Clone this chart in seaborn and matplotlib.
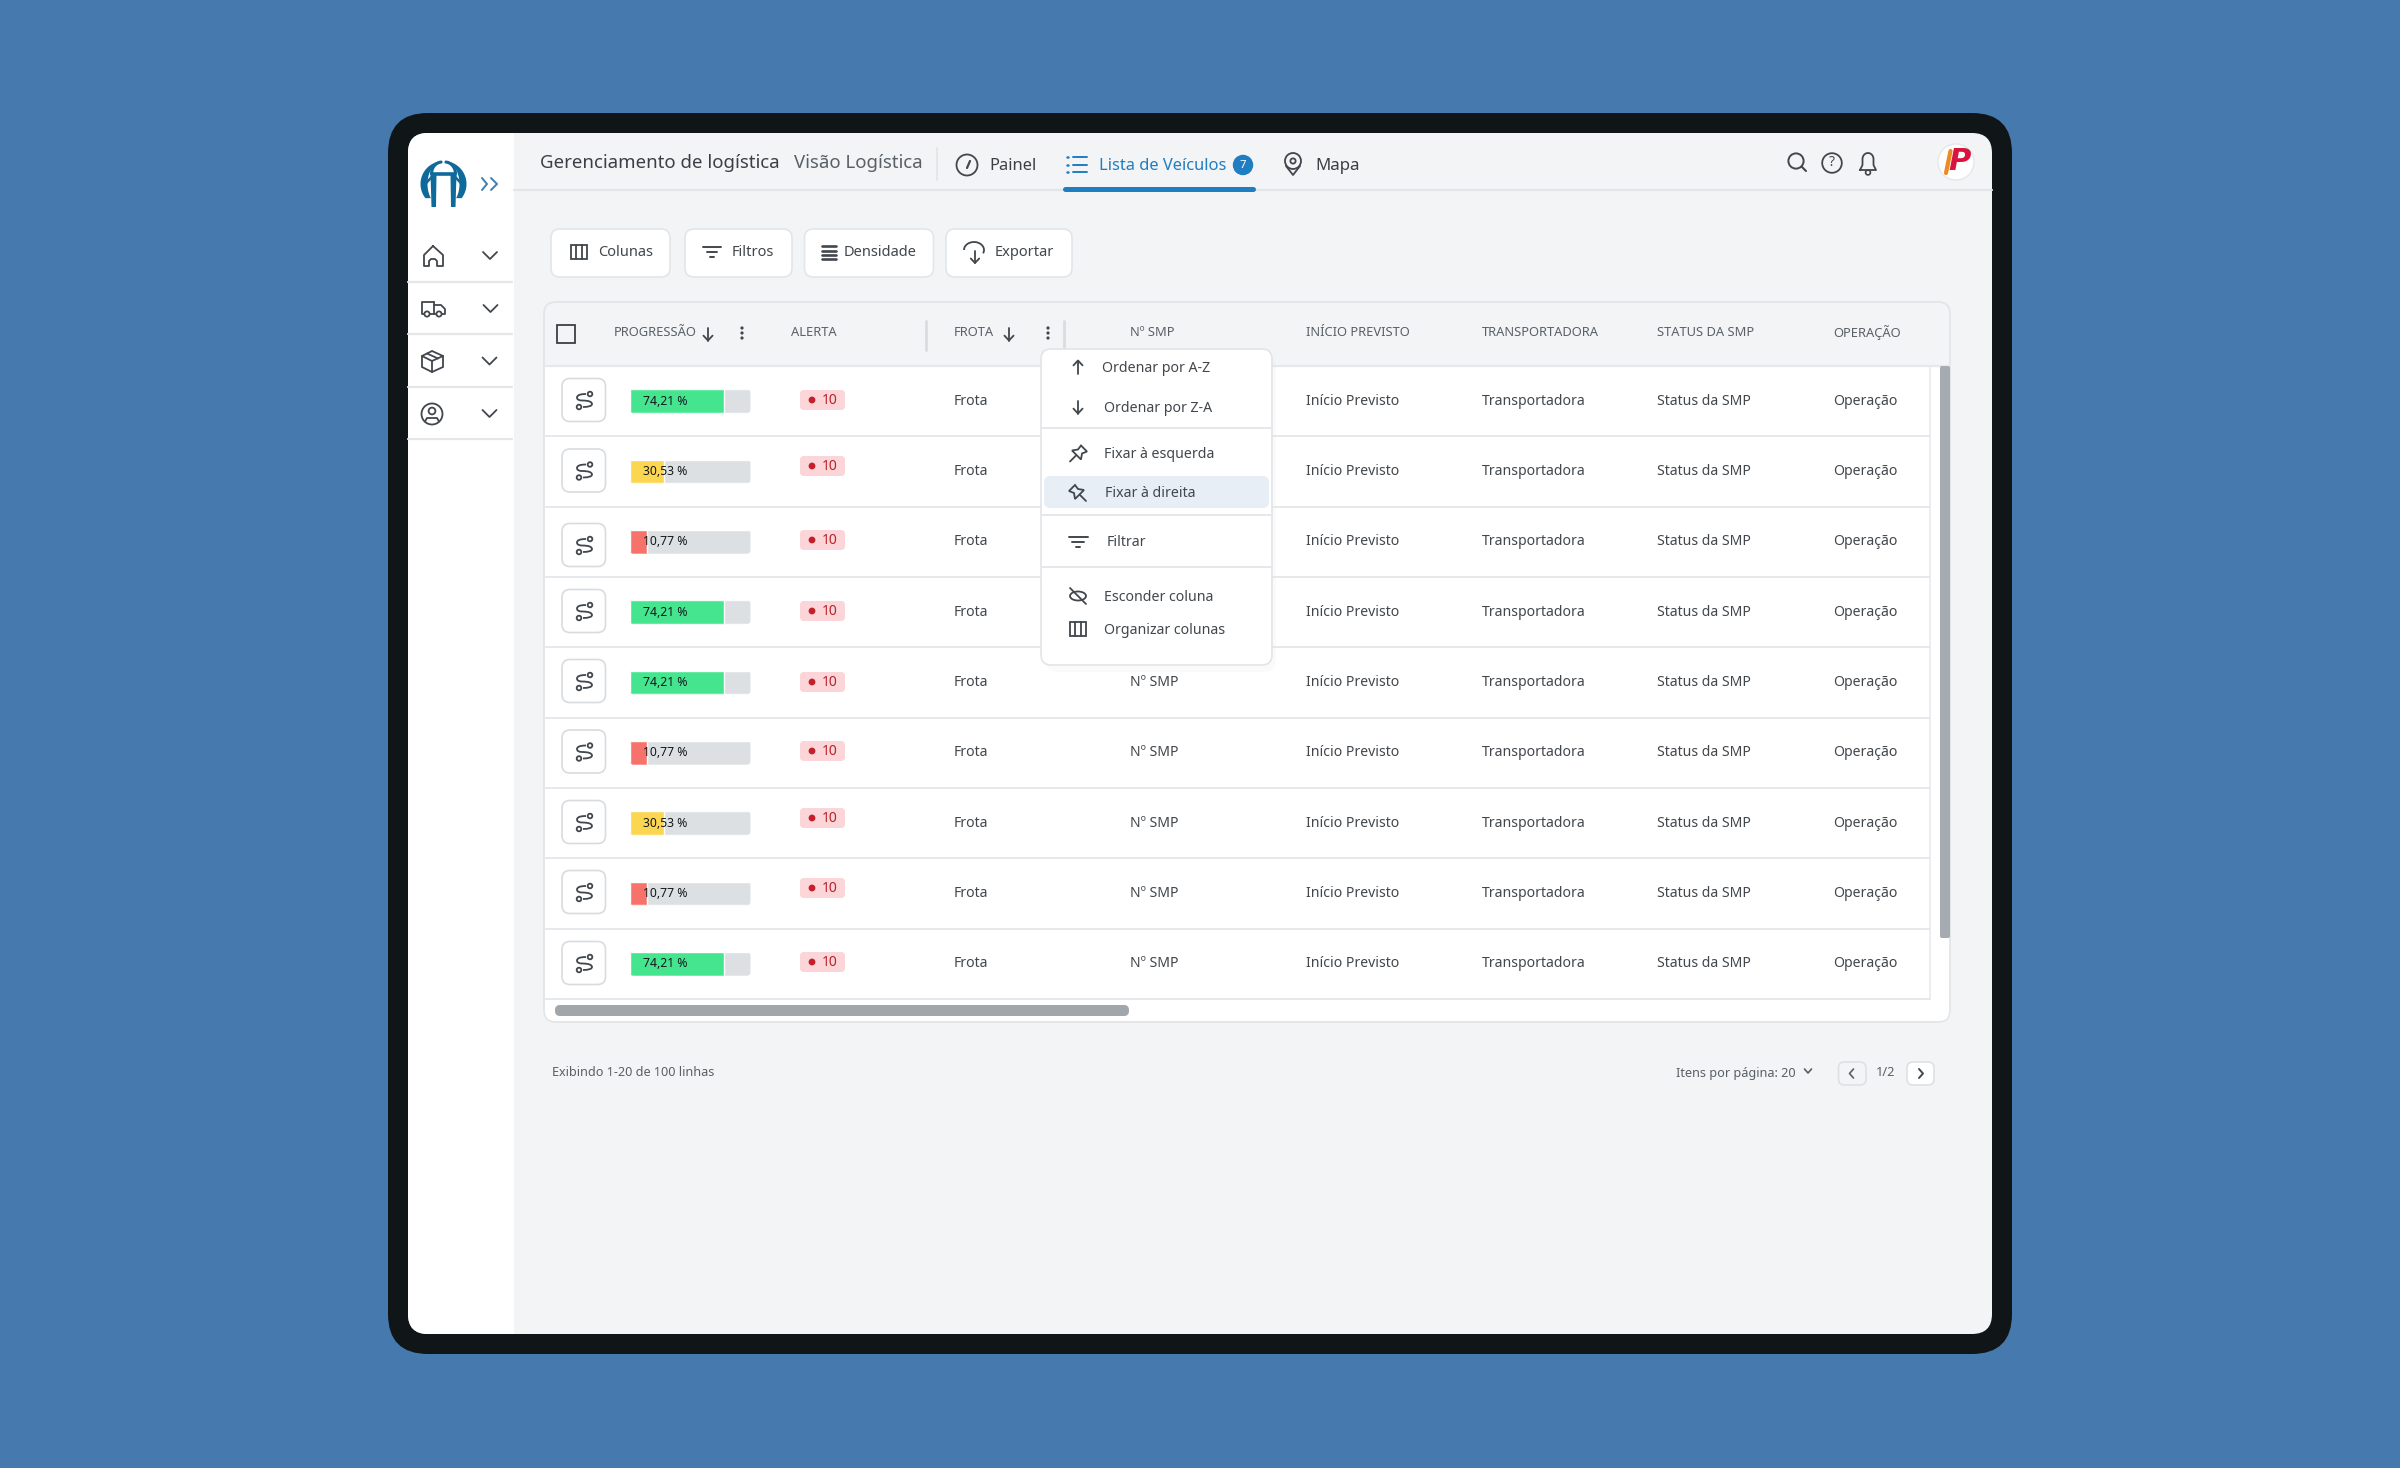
import numpy as np
import pandas as pd
import matplotlib
matplotlib.use("Agg")
import matplotlib.pyplot as plt
from matplotlib.patches import FancyBboxPatch, Rectangle, Circle, Ellipse, Arc, PathPatch, Polygon
from matplotlib.path import Path
import seaborn as sns

sns.set_theme(style="white")
plt.rcParams['font.family'] = ['Noto Sans', 'DejaVu Sans']

# ---------- data ----------
row_ids = ["r1", "r2", "r3", "r4", "r5", "r6", "r7", "r8", "r9"]
progress_labels = ["74,21 %", "30,53 %", "10,77 %", "74,21 %", "74,21 %", "10,77 %", "30,53 %", "10,77 %", "74,21 %"]
progress_fill = [78, 28, 14, 78, 78, 14, 28, 14, 78]
progress_track = [100, 100, 100, 100, 100, 100, 100, 100, 100]
progress_status = ["alto", "medio", "baixo", "alto", "alto", "baixo", "medio", "baixo", "alto"]
status_palette = {"alto": "#45E590", "medio": "#FBD650", "baixo": "#F6736B"}
alert_values = ["10"] * 9
column_titles = ["PROGRESSÃO", "ALERTA", "FROTA", "Nº SMP", "INÍCIO PREVISTO", "TRANSPORTADORA", "STATUS DA SMP", "OPERAÇÃO"]
cell_texts = ["Frota", "Nº SMP", "Início Previsto", "Transportadora", "Status da SMP", "Operação"]
toolbar_labels = ["Colunas", "Filtros", "Densidade", "Exportar"]
menu_labels = ["Ordenar por A-Z", "Ordenar por Z-A", "Fixar à esquerda", "Fixar à direita", "Filtrar", "Esconder coluna", "Organizar colunas"]

W, H = 2400, 1468
INK = "#41474C"
GREY = "#596066"
BLUE = "#1F7DC1"
LINE = "#E4E7EA"

fig = plt.figure(figsize=(W / 100, H / 100), dpi=100, facecolor="#4679AE")
ax = fig.add_axes([0, 0, 1, 1], zorder=0)
ax.set_xlim(0, W)
ax.set_ylim(H, 0)
ax.axis("off")
top = fig.add_axes([0, 0, 1, 1], zorder=5)
top.set_xlim(0, W)
top.set_ylim(H, 0)
top.axis("off")
top.patch.set_alpha(0)


def rr(a, x0, y0, x1, y1, r, fc="white", ec="none", lw=1.0, z=1):
    p = FancyBboxPatch((x0 + r, y0 + r), x1 - x0 - 2 * r, y1 - y0 - 2 * r,
                       boxstyle=f"round,pad={r},rounding_size={r}", fc=fc, ec=ec, lw=lw, zorder=z)
    a.add_patch(p)
    return p


def line(a, xs, ys, c=INK, lw=1.5, z=6):
    a.plot(xs, ys, color=c, lw=lw, solid_capstyle="round", solid_joinstyle="round", zorder=z)


def txt(a, x, y, s, size=10.1, c=INK, ha="left", weight="normal", z=7):
    a.text(x, y + 1.5, s, fontsize=size, color=c, ha=ha, va="center", weight=weight, zorder=z)


def ring(a, x, y, r, c=INK, lw=1.5, fc="none", z=6):
    a.add_patch(Circle((x, y), r, fc=fc, ec=c, lw=lw, zorder=z))


def chevron(a, x, y, w, h, c=INK, lw=1.3):
    line(a, [x - w, x, x + w], [y - h, y + h, y - h], c, lw)


def arrow(a, x, y, up=False, s=6.5, c=INK, lw=1.3):
    d = -1 if up else 1
    line(a, [x, x], [y - d * s, y + d * s], c, lw)
    line(a, [x - s * 0.7, x, x + s * 0.7], [y + d * s * 0.25, y + d * s, y + d * s * 0.25], c, lw)


def dots(a, x, y, c=INK):
    for dy in (-5, 0, 5):
        a.add_patch(Circle((x, y + dy), 1.6, fc=c, ec="none", zorder=6))


def filt(a, x, y, w=10, c=INK, lw=1.4):
    line(a, [x - w, x + w], [y - 5, y - 5], c, lw)
    line(a, [x - w * 0.6, x + w * 0.6], [y, y], c, lw)
    line(a, [x - w * 0.2, x + w * 0.2], [y + 5, y + 5], c, lw)


def cols(a, x, y, c=INK, lw=1.3):
    a.add_patch(Rectangle((x - 8, y - 7), 16, 14, fc="none", ec=c, lw=lw, zorder=6))
    for dx in (-2.7, 2.7):
        line(a, [x + dx, x + dx], [y - 7, y + 7], c, lw)


def pin(a, x, y, c=INK, flip=False):
    s = -1 if flip else 1
    xs = s * np.array([3, 9, 4, 3, -6, 0])
    ys = np.array([-8, -2, 0, 6, -3, -4])
    a.add_patch(Polygon(np.c_[x + xs, y + ys], closed=True, fc="none", ec=c, lw=1.3, zorder=6))
    line(a, [x - s * 2, x - s * 8], [y + 2, y + 8], c, 1.3)


def route(a, x, y, c=INK):
    ring(a, x + 6, y - 6, 2.3, c, 1.3)
    ring(a, x - 5, y + 7, 2.3, c, 1.3)
    v = [(x + 2, y - 6), (x - 7, y - 6), (x - 7, y - 2.5), (x - 7, y + 0.5), (x - 2, y + 0.5),
         (x + 8, y + 0.5), (x + 8, y + 4), (x + 8, y + 7), (x - 1, y + 7)]
    codes = [Path.MOVETO] + [Path.CURVE3] * 8
    a.add_patch(PathPatch(Path(v, codes), fc="none", ec=c, lw=1.3, zorder=6))


# ---------- frame ----------
rr(ax, 388, 113, 2012, 1354, 40, fc="#101518", z=1)
screen = rr(ax, 408, 133, 1992, 1334, 20, fc="#F2F4F6", z=2)
side = Rectangle((408, 133), 106, 1201, fc="white", ec="none", zorder=3)
ax.add_patch(side)
side.set_clip_path(screen)

# sidebar
for yy in (282, 334, 387, 439):
    line(ax, [408, 512], [yy, yy], LINE, 1.6, 4)
LOGO = "#0F6A9C"
cx, cy = 443.5, 184
t = np.radians(np.linspace(92, 218, 40))
for s in (-1, 1):
    px = np.r_[23 * np.abs(np.cos(t)), (16 * np.abs(np.cos(t)))[::-1]]
    py = np.r_[cy - 23 * np.sin(t), (cy - 23 * np.sin(t))[::-1]]
    ax.add_patch(Polygon(np.c_[cx + s * px, py], closed=True, fc=LOGO, ec="none", zorder=5))
    # tapered stems of the H
    ax.add_patch(Polygon([(cx + s * 7, 174), (cx + s * 13, 174), (cx + s * 12, 207), (cx + s * 7.5, 207)],
                         closed=True, fc=LOGO, ec="none", zorder=5))
    # inner meridian and wing
    mt = np.radians(np.linspace(0, 85, 20))
    line(ax, cx + s * (1.5 + 10.5 * np.cos(mt)), 174 - 12 * np.sin(mt), LOGO, 2.2, 5)
    line(ax, [cx + s * 10, cx + s * 20], [175, 186], LOGO, 1.8, 5)
line(ax, [cx - 11, cx + 11], [174, 174], LOGO, 2.6, 5)
line(ax, [482, 487, 482], [178, 184, 190], "#3E7EB0", 1.4, 5)
line(ax, [491, 497, 491], [178, 184, 190], "#3E7EB0", 1.4, 5)
# house
line(ax, [433, 424, 424, 429, 429, 431, 435, 437, 437, 443, 443, 433],
      [246, 255, 266, 266, 261, 259, 259, 261, 266, 266, 255, 246], INK, 1.3, 5)
# truck
line(ax, [434, 422, 422, 424], [302, 302, 314, 314], INK, 1.3, 5)
line(ax, [434, 434], [302, 314], INK, 1.3, 5)
line(ax, [430, 436], [314, 314], INK, 1.3, 5)
line(ax, [434, 441, 445, 445, 442], [305, 305, 309, 314, 314], INK, 1.3, 5)
ring(ax, 427, 314, 2.6, INK, 1.3, "white", 6)
ring(ax, 439, 314, 2.6, INK, 1.3, "white", 6)
# box
ax.add_patch(Polygon([(432, 351), (443, 356), (443, 367), (432, 372), (422, 367), (422, 356)], closed=True, fc="none", ec=INK, lw=1.3, zorder=5))
line(ax, [422, 432, 443], [356, 361, 356], INK, 1.3, 5)
line(ax, [432, 432], [361, 372], INK, 1.3, 5)
line(ax, [427, 438], [353.5, 358.5], INK, 1.3, 5)
# user
ring(ax, 432, 414, 10.5, INK, 1.3)
ring(ax, 432, 411, 3.4, INK, 1.3)
line(ax, [425, 427, 437, 439], [421.5, 418, 418, 421.5], INK, 1.3, 6)
for yy, xx in zip((255.5, 308.5, 361, 413.5), (490, 490.5, 489.5, 489.5)):
    chevron(ax, xx, yy, 7, 3.5, INK, 1.3)

# top bar
line(ax, [514, 1992], [190, 190], "#E3E6E9", 1.6, 4)
txt(ax, 540, 162, "Gerenciamento de logística", 13.4, "#3A4045", weight="medium")
txt(ax, 794, 162, "Visão Logística", 13.4, GREY)
line(ax, [937, 937], [148, 180], LINE, 1.4, 4)
ring(ax, 967, 165, 10.5, INK, 1.3)
line(ax, [967, 970], [168, 161], INK, 1.6, 6)
txt(ax, 989, 164, "Painel", 11.9, "#3A4045", weight="medium")
for yy in (157, 164.5, 172):
    line(ax, [1067, 1068], [yy, yy], BLUE, 1.8, 6)
    line(ax, [1073, 1087], [yy, yy], BLUE, 1.4, 6)
txt(ax, 1099, 164, "Lista de Veículos", 11.9, BLUE, weight="medium")
ring(ax, 1243, 165, 9.5, BLUE, 1, BLUE)
txt(ax, 1243, 164, "7", 8.2, "white", ha="center")
line(ax, [1065, 1253], [189, 189], BLUE, 3.6, 6)
ax.add_patch(Circle((1293, 161), 8, fc="none", ec=INK, lw=1.3, zorder=6))
ring(ax, 1293, 161, 2.6, INK, 1.3)
line(ax, [1286, 1293, 1300], [166, 175, 166], INK, 1.3, 6)
txt(ax, 1315, 165, "Mapa", 12.1, "#3A4045", weight="medium")
ring(ax, 1796, 161, 7.6, INK, 1.4)
line(ax, [1801.5, 1806], [166.5, 171], INK, 1.5, 6)
ring(ax, 1832, 163, 9.8, INK, 1.3)
txt(ax, 1832, 161.5, "?", 10, INK, ha="center")
bt = np.radians(np.linspace(0, 180, 20))
line(ax, np.r_[1860, 1862.5, 1868 - 5.5 * np.cos(bt), 1873.5, 1876, 1860],
     np.r_[170, 165, 159 - 6 * np.sin(bt), 165, 170, 170], INK, 1.3, 6)
ring(ax, 1868, 172.5, 2.4, INK, 1.2)
ring(ax, 1956, 162, 18, "#E5E7EA", 1, "white")
ax.text(1960, 162, "P", fontsize=22, color="#D9153E", ha="center", va="center", weight="bold",
        style="oblique", family="DejaVu Sans", zorder=7)
line(ax, [1946, 1950.5], [173, 151], "#EE8A24", 3.0, 8)

# toolbar
btn_edges = [(551, 670), (685, 792), (804.5, 933.5), (946, 1072)]
btn_text_x = [598.5, 732, 844, 995]
btn_icon_x = [579, 712, 828.5, 974]
for (x0, x1), tx, lab in zip(btn_edges, btn_text_x, toolbar_labels):
    rr(ax, x0, 229, x1, 277, 9, "white", "#E3E6E9", 1.2, 4)
    txt(ax, tx, 250.5, lab, 10.5, INK)
cols(ax, btn_icon_x[0], 252)
filt(ax, btn_icon_x[1], 252, 9)
for yy in (246, 250.5, 255, 259):
    line(ax, [btn_icon_x[2] - 7, btn_icon_x[2] + 7], [yy, yy], INK, 1.9, 6)
ax.add_patch(Arc((974, 250), 20, 16, theta1=180, theta2=360 + 20, ec=INK, lw=1.3, zorder=6))
arrow(ax, 975, 257, s=6, lw=1.3)

# table card
rr(ax, 544, 302, 1950, 1022, 12, "#F2F4F6", "#E2E5E8", 1.2, 3)
rr(ax, 545, 366, 1949, 1021, 10, "white", "none", 0, 3)
ax.add_patch(Rectangle((545, 366), 1404, 20, fc="white", ec="none", zorder=3))
line(ax, [545, 1949], [366, 366], "#E6E8EB", 1.6, 4)
line(ax, [1930, 1930], [366, 999], "#E8EAED", 1.2, 4)

step = (999 - 366) / 9
row_center = [366 + step * (i + 0.5) for i in range(9)]
for i in range(1, 10):
    line(ax, [545, 1930], [366 + step * i] * 2, "#E6E8EB", 1.4, 4)

# header
ax.add_patch(Rectangle((557, 325), 18, 18, fc="none", ec="#3A4045", lw=1.3, zorder=6))
head_x = [613.5, 791, 953.5, 1129.5, 1305.5, 1481.5, 1657, 1833]
for x, tt in zip(head_x, column_titles):
    txt(ax, x, 331.5, tt, 9.3, GREY)
arrow(ax, 708, 334)
arrow(ax, 1009, 334)
dots(ax, 742, 333)
dots(ax, 1048, 333)
line(ax, [926, 926], [321, 350], "#D9DDE0", 2, 6)
line(ax, [1064, 1064], [321, 350], "#D9DDE0", 2, 6)

# cells (the first four Nº SMP cells sit behind the open menu and do not show)
cell_x = [953.5, 1129.5, 1305.5, 1481.5, 1657, 1833]
btn_cy = [400, 470.5, 545, 611, 681, 751.5, 822, 892, 963]
alert_cy = [400, 466, 540, 611, 682, 751, 818, 888, 962]
for i, cy_ in enumerate(row_center):
    text_y = cy_ - 1.5
    for x, tt in zip(cell_x, cell_texts):
        if tt == "Nº SMP" and i < 4:
            continue
        txt(ax, x, text_y, tt, 10.1, INK)
    rr(ax, 562, btn_cy[i] - 21.5, 605.5, btn_cy[i] + 21.5, 8, "white", "#D8DCDF", 1.2, 5)
    route(ax, 584, btn_cy[i])
    rr(ax, 800, alert_cy[i] - 10, 845, alert_cy[i] + 10, 4, "#FBD5D7", "none", 0, 5)
    ax.add_patch(Circle((812, alert_cy[i]), 3.4, fc="#C5202A", ec="none", zorder=6))
    txt(ax, 830, alert_cy[i] - 1, alert_values[i], 10, "#B8232C", ha="center")

# progress bars
bar_ax = fig.add_axes([630 / W, 1 - 999 / H, (750.5 - 630) / W, (999 - 366) / H], zorder=2)
bar_ax.patch.set_alpha(0)
df = pd.DataFrame({"row": row_ids, "fill": progress_fill, "track": progress_track, "status": progress_status})
sns.barplot(data=df, x="track", y="row", order=row_ids, color="#DDE0E3", saturation=1, width=0.34, ax=bar_ax)
sns.barplot(data=df, x="fill", y="row", order=row_ids, hue="status", palette=status_palette, saturation=1,
            dodge=False, width=0.34, legend=False, ax=bar_ax)
bar_ax.set_xlim(0, 100)
bar_ax.set_ylim(8.5, -0.5)
bar_ax.axis("off")
for i, lab in enumerate(progress_labels):
    bar_ax.text(11, i, lab, fontsize=8.8, color="#15181B", weight="semibold", va="center", ha="left", zorder=8)
# rounded ends for the bars, clipped on the page pixel grid
for p in bar_ax.patches:
    yc = p.get_y() + p.get_height() / 2
    if not np.isfinite(yc) or not p.get_width():
        continue
    c_ = row_center[int(round(yc))]
    clip = FancyBboxPatch((634, c_ - 8), 112.5, 16, boxstyle="round,pad=4,rounding_size=4", fc="none", ec="none",
                          transform=ax.transData)
    p.set_clip_path(clip)

# scrollbars
rr(ax, 1940, 366, 1950, 938, 2, "#A5ABB0", "none", 0, 5)
rr(ax, 555, 1005, 1129, 1016, 5, "#A1A6AB", "none", 0, 5)

# footer
txt(ax, 552, 1071.5, "Exibindo 1-20 de 100 linhas", 9.1, GREY, weight="medium")
txt(ax, 1676, 1071.5, "Itens por página: 20", 9.1, GREY, weight="medium")
chevron(ax, 1808, 1071, 3.5, 2, GREY, 1.2)
rr(ax, 1838.5, 1062, 1866, 1085, 6, "#F2F4F6", "#DEE1E4", 1.2, 4)
line(ax, [1853.5, 1849.5, 1853.5], [1069, 1073.5, 1078], GREY, 1.2, 6)
txt(ax, 1886, 1071.5, "1/2", 9.2, GREY, ha="center", weight="medium")
rr(ax, 1907, 1062, 1934, 1085, 6, "white", "#DEE1E4", 1.2, 4)
line(ax, [1919, 1923, 1919], [1069, 1073.5, 1078], INK, 1.4, 6)

# context menu
rr(top, 1046, 356, 1276, 672, 12, "#DADDE1", "none", 0, 1).set_alpha(0.12)
rr(top, 1041, 349, 1272, 665, 10, "white", "#E2E5E8", 1.2, 2)
rr(top, 1044, 476, 1269, 508, 6, "#E8EEF6", "none", 0, 3)
for yy in (428, 514.5, 567):
    line(top, [1041, 1272], [yy, yy], "#E5E7EA", 1.4, 4)
menu_x = [1102.5, 1104, 1104, 1105, 1107, 1103.5, 1104]
menu_y = [366.5, 406.5, 452.5, 492, 540.5, 596, 629]
for x, y, tt in zip(menu_x, menu_y, menu_labels):
    txt(top, x, y, tt, 10.2, INK)
arrow(top, 1078, 367, up=True)
arrow(top, 1078, 407)
pin(top, 1078, 453.5)
pin(top, 1078, 493, flip=True)
filt(top, 1078, 541.5, 9.5)
top.add_patch(Ellipse((1078, 596), 16, 9, fc="none", ec=INK, lw=1.3, zorder=6))
line(top, [1070, 1086], [588, 604], INK, 1.3)
cols(top, 1078, 629)

fig.savefig("out.png", dpi=100, facecolor=fig.get_facecolor())
